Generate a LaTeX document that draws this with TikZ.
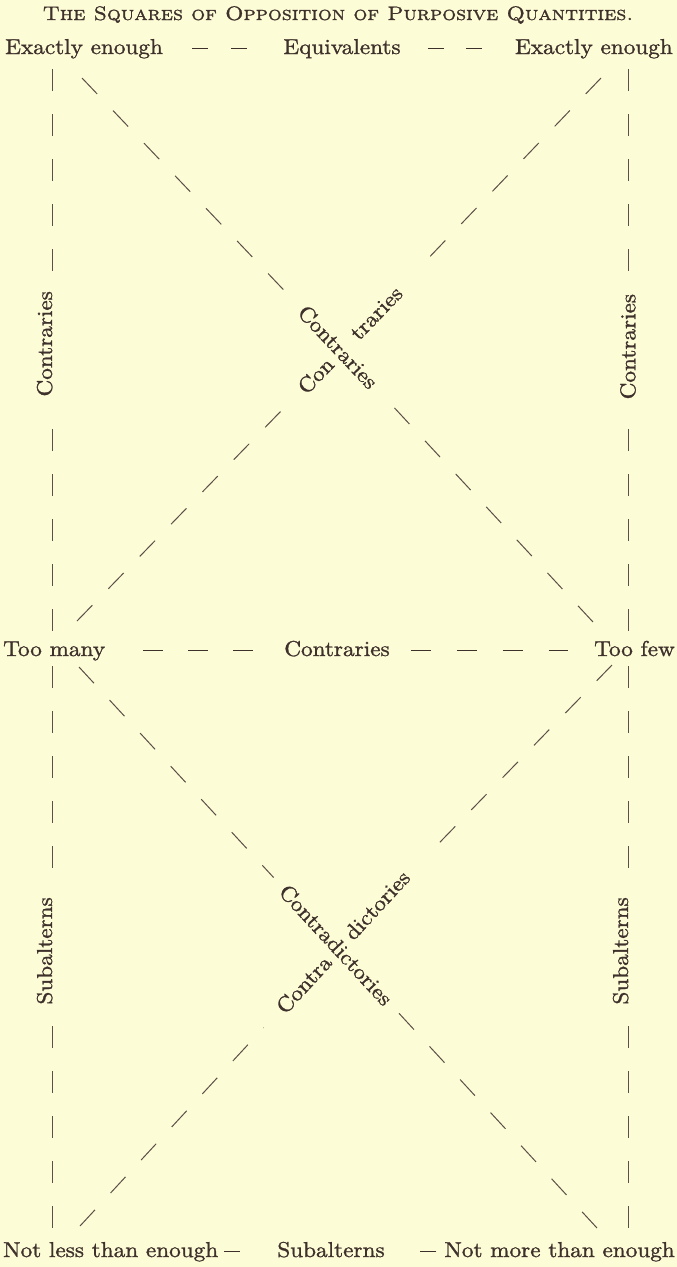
\documentclass[tikz,border=0pt]{standalone}
\usepackage{fontspec}
\newfontfamily\bodyfont{lmroman10-regular}[Extension=.otf, FakeStretch=1.08, FakeBold=1.2]
\newfontfamily\titlefont{lmromancaps10-regular}[Extension=.otf, FakeStretch=1.12, FakeBold=1.2]
\definecolor{bg}{RGB}{252,252,214}
\definecolor{ink}{RGB}{62,48,43}
\definecolor{lineink}{RGB}{92,78,72}
\tikzset{
  txt/.style={text=ink, inner sep=0pt, font=\bodyfont\fontsize{21.5}{25}\selectfont},
  dsh/.style={draw=lineink, line width=1pt, dash pattern=on 22pt off 23pt},
  hd/.style={draw=ink, line width=1pt},
  vlab/.style={txt, rotate=90, fill=bg, inner xsep=11pt, inner ysep=3pt},
  dlab/.style={txt, inner sep=2pt, outer sep=12pt},
}
\begin{document}
\begin{tikzpicture}[x=1pt,y=-1pt]
\fill[bg] (0,0) rectangle (677,1267);
\useasboundingbox (0,0) rectangle (677,1267);

% title
\node[anchor=base, text=ink, inner sep=0pt, font=\titlefont\fontsize{19.5}{22}\selectfont] (title) at (338,20) {The Squares of Opposition of Purposive Quantities.};

% text rows
\node[txt, anchor=base west] (ee1) at (5,54) {Exactly enough};
\node[txt, anchor=base] (eq) at (342,54) {Equivalents};
\node[txt, anchor=base east] (ee2) at (673,54) {Exactly enough};

\node[txt, anchor=base west] (tm) at (3,656) {Too many};
\node[txt, anchor=base] (mc) at (337,656) {Contraries};
\node[txt, anchor=base east] (tf) at (675,656) {Too few};

\node[txt, anchor=base west] (nl) at (3,1257) {Not less than enough};
\node[txt, anchor=base] (sb) at (331,1257) {Subalterns};
\node[txt, anchor=base east] (nm) at (675,1257) {Not more than enough};

% horizontal dashes
\draw[hd, dash pattern=on 16pt off 23pt, shorten <=29pt, shorten >=33pt] ([yshift=6pt]ee1.base east) -- ([yshift=6pt]eq.base west);
\draw[hd, dash pattern=on 16pt off 22pt, shorten <=27pt, shorten >=32pt] ([yshift=6pt]eq.base east) -- ([yshift=6pt]ee2.base west);
\draw[hd, dash pattern=on 20pt off 25pt, shorten <=38pt, shorten >=24pt] ([yshift=6pt]tm.base east) -- ([yshift=6pt]mc.base west);
\draw[hd, dash pattern=on 20pt off 26pt, shorten <=21pt, shorten >=26pt] ([yshift=6pt]mc.base east) -- ([yshift=6pt]tf.base west);
\draw[hd, dash pattern=on 16pt off 200pt, shorten <=6pt] ([yshift=6pt]nl.base east) -- ([yshift=6pt]sb.base west);
\draw[hd, dash pattern=on 16pt off 200pt, shorten <=8pt] ([yshift=6pt]nm.base west) -- ([yshift=6pt]sb.base east);

% vertical sides
\coordinate (lt1) at (52,69);  \coordinate (lb1) at (52,631);
\coordinate (rt1) at (628,69); \coordinate (rb1) at (628,631);
\coordinate (lt2) at (52,666); \coordinate (lb2) at (52,1229);
\coordinate (rt2) at (628,666); \coordinate (rb2) at (628,1229);

\draw[dsh] (lt1) -- node[vlab, anchor=base, pos=0.489] (lc) {Contraries} (lb1);
\draw[dsh] (rt1) -- node[vlab, anchor=center, pos=0.494] (rc) {Contraries} (rb1);
\draw[dsh] (lt2) -- node[vlab, anchor=base, pos=0.506] (ls) {Subalterns} (lb2);
\draw[dsh] (rt2) -- node[vlab, anchor=base, pos=0.506] (rs) {Subalterns} (rb2);

% upper X
\coordinate (d1a) at (82,78);  \coordinate (d1b) at (593,622);
\coordinate (d2a) at (77,621); \coordinate (d2b) at (601,78);
\node[dlab, rotate=-46.8] (x1) at (338,347) {Contraries};
\node[dlab, outer sep=22pt, rotate=46] (x2) at (350,340) {Con\hspace{34pt}traries};
\draw[dsh] (d1a) -- (x1);
\draw[dsh] (d1b) -- (x1);
\draw[dsh] (d2a) -- (x2);
\draw[dsh] (d2b) -- (x2);

% lower X
\coordinate (d3a) at (79,667);  \coordinate (d3b) at (597,1228);
\coordinate (d4a) at (80,1226); \coordinate (d4b) at (612,665);
\node[dlab, rotate=-47.3] (x3) at (336,945) {Contradictories};
\node[dlab, outer sep=22pt, rotate=47.3] (x4) at (343,942) {Contra\hspace{30pt}dictories};
\draw[dsh] (d3a) -- (x3);
\draw[dsh] (d3b) -- (x3);
\draw[dsh] (d4a) -- (x4);
\draw[dsh] (d4b) -- (x4);
\end{tikzpicture}
\end{document}
